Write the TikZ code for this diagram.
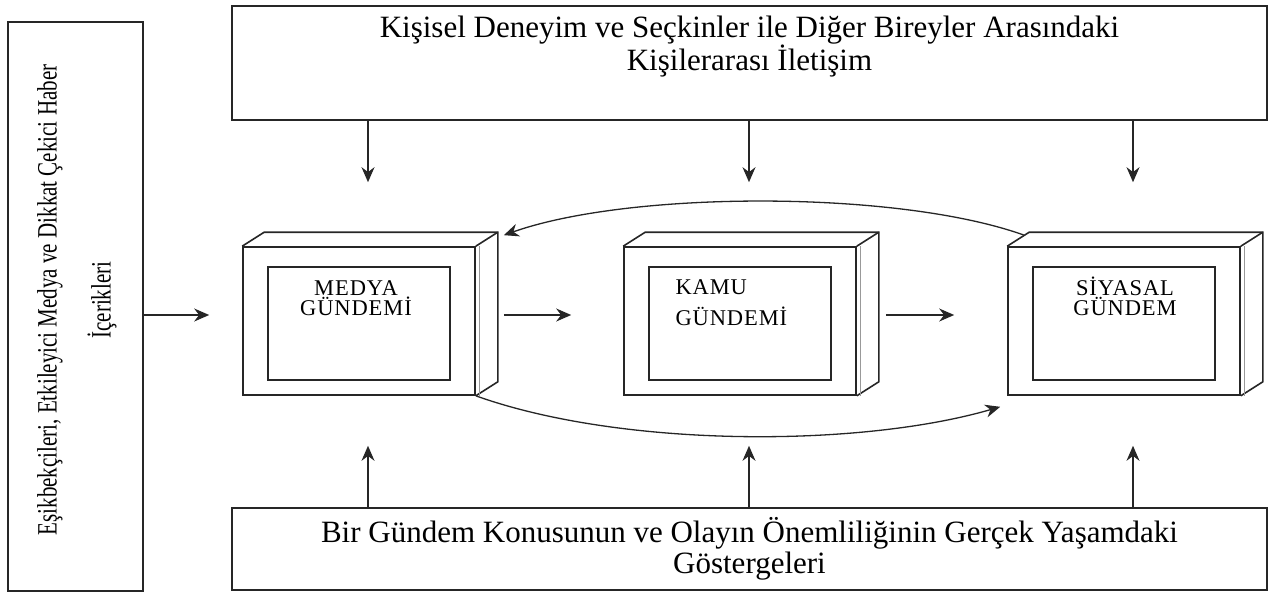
\documentclass[tikz,border=0pt]{standalone}
\usepackage{fontspec}
\setmainfont{Liberation Serif}
\newfontfamily\kutuyazi[LetterSpace=4]{Liberation Serif}
\newfontfamily\darserif[FakeStretch=0.75]{Liberation Serif}
\usetikzlibrary{calc,arrows.meta,positioning}

\begin{document}
\begin{tikzpicture}[x=1pt,y=-1pt,
    >={Stealth[length=15pt,width=13pt]},
    cizgi/.style={draw=black!85,line width=1.6pt},
    ok/.style={->,draw=black!85,line width=1.3pt},
    genis/.style={cizgi,minimum width=1035pt,inner sep=0pt},
    onyuz/.style={cizgi,minimum width=232pt,minimum height=148pt,inner sep=0pt},
    ic/.style={cizgi,minimum width=182pt,minimum height=113pt,inner sep=0pt},
    yazi/.style={font=\fontsize{31}{31}\selectfont,align=center},
    etiket/.style={font=\kutuyazi\fontsize{22.5}{20}\selectfont}]

    \useasboundingbox (0,0) rectangle (1271,597);

    \node[genis,minimum height=114pt] (ustkutu) at (749.5,63) {};
    \node[yazi,anchor=north] (ustyazi) at (749.5,12) {Kişisel Deneyim ve Seçkinler ile Diğer Bireyler Arasındaki\\Kişilerarası İletişim};
    \node[genis,minimum height=82pt,yazi] (altkutu) at (749.5,549) {Bir Gündem Konusunun ve Olayın Önemliliğinin Gerçek Yaşamdaki\\Göstergeleri};
    \node[cizgi,minimum width=135pt,minimum height=569pt] (solkutu) at (75.5,306.5) {};
    \node[rotate=90,align=center,font=\darserif\fontsize{28}{54}\selectfont] (solyazi) at (77,300) {Eşikbekçileri, Etkileyici Medya ve Dikkat Çekici Haber\\İçerikleri};

    \node[onyuz] (medya) at (359,321) {};
    \node[onyuz] (kamu) at (740,321) {};
    \node[onyuz] (siyasal) at (1124,321) {};
    \foreach \k in {medya,kamu,siyasal} {
        \draw[cizgi] (\k.north west) -- ++(22,-14) -| ($(\k.south east)+(22,-14)$) -- (\k.south east);
        \draw[cizgi] (\k.north east) -- ++(22,-14);
        \draw[draw=black!40,line width=1pt] ([xshift=4pt]\k.north east) -- ([xshift=4pt]\k.south east);
        \node[ic] (\k-ic) at ($(\k)+(0,2.5)$) {};
    }
    \node[etiket,align=center] (medyayazi) at (356,298) {MEDYA\\GÜNDEMİ};
    \node[etiket,align=left,anchor=west] (kamuyazi) at (672,302.5) {KAMU\\[11pt]GÜNDEMİ};
    \node[etiket,align=center] (siyasalyazi) at (1125,296) {SİYASAL\\GÜNDEM};

    \coordinate (sol-ok) at ($(medya.west)+(-33,-6)$);
    \draw[ok] (solkutu.east |- sol-ok) -- (sol-ok);
    \draw[ok,shorten <=28pt,shorten >=52pt] ([yshift=6pt]medya.east) -- ([yshift=6pt]kamu.west);
    \draw[ok,shorten <=29pt,shorten >=53pt] ([yshift=6pt]kamu.east) -- ([yshift=6pt]siyasal.west);
    \foreach \k in {medya,kamu,siyasal} {
        \coordinate (\k-ust) at ($(\k.north)+(9,-64)$);
        \coordinate (\k-alt) at ($(\k.south)+(9,50)$);
        \draw[ok] (ustkutu.south -| \k-ust) -- (\k-ust);
        \draw[ok] (altkutu.north -| \k-alt) -- (\k-alt);
    }
    \coordinate (siyasal-geri) at ($(siyasal.north west)+(17,-11)$);
    \coordinate (medya-geri) at ($(medya.north east)+(28,-11)$);
    \draw[ok] (siyasal-geri) .. controls +(-125,-45) and +(127,-45) .. (medya-geri);
    \coordinate (siyasal-on) at ($(siyasal.south west)+(-7,11)$);
    \draw[ok] (medya.south east) .. controls +(145,52) and +(-141,41) .. (siyasal-on);
\end{tikzpicture}
\end{document}
